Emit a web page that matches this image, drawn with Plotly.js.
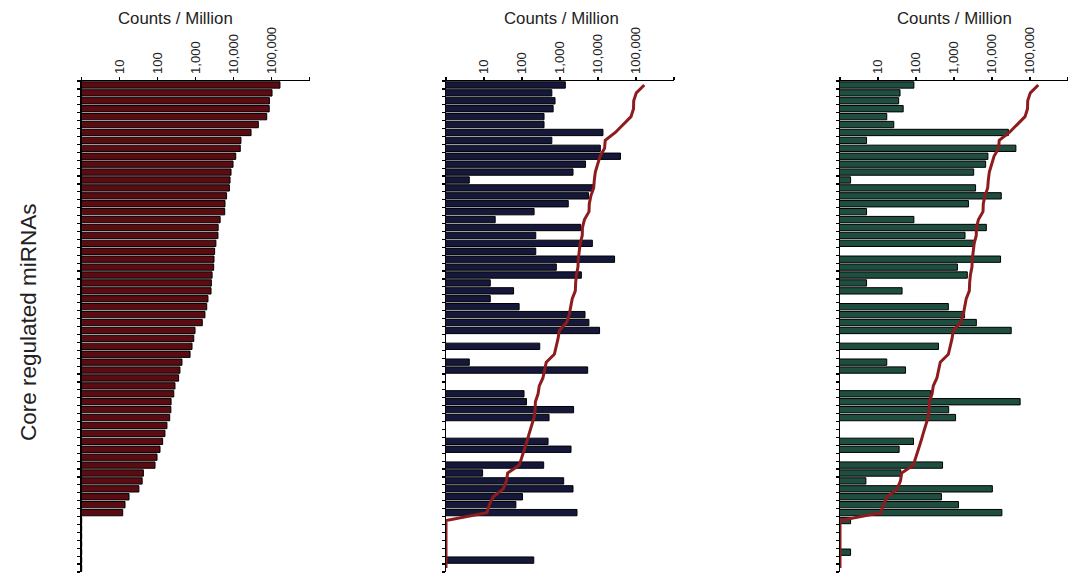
<!DOCTYPE html>
<html>
<head>
<meta charset="utf-8">
<script src="https://cdn.plot.ly/plotly-3.0.1.min.js"></script>
<style>
  html, body { margin: 0; padding: 0; background: #fff; }
  #chart { width: 1068px; height: 575px; }
</style>
</head>
<body>
<div id="chart"></div>
<script>
// Core regulated miRNAs, counts per million, one row per miRNA (62 rows).
const rowIds = Array.from({length: 62}, (_, i) => i + 1);

// Reference library: sorted abundance (also drawn as the red profile line in the other panels)
const coreCounts = [
  165000, 102000, 87000, 86000, 74000, 44500, 28600, 15500, 14900, 11300,
  9600, 8500, 8000, 7700, 6500, 5900, 5800, 4400, 3900, 3850,
  3400, 3150, 3030, 2970, 2700, 2580, 2530, 2100, 1950, 1750,
  1490, 960, 890, 800, 710, 435, 385, 355, 285, 265,
  225, 222, 207, 175, 155, 135, 115, 96, 85, 42,
  39, 32, 17.6, 13.8, 12, 1, 1, 1, 1, 1, 1, 1
];

// Second library
const libraryB = [
  1380, 610, 740, 660, 380, 380, 13500, 610, 11500, 39000,
  4700, 2200, 4.1, 7400, 5650, 1650, 208, 19.7, 3500, 230,
  7100, 230, 27300, 800, 3650, 14.6, 60, 14.6, 84, 4550,
  5760, 11000, 0, 293, 0, 4.1, 5350, 0, 0, 113,
  131, 2280, 515, 0, 0, 485, 1950, 0, 372, 9.2,
  1250, 2200, 103, 69, 2800, 0, 0, 0, 0, 0,
  204, 0
];

// Third library
const libraryC = [
  88, 38, 35, 46, 17, 26, 27000, 5, 42500, 7800,
  6800, 3300, 1.9, 3700, 17500, 2400, 5, 88, 7100, 1950,
  3330, 0, 16800, 1230, 2240, 5, 43, 0, 710, 1900,
  3870, 32000, 0, 390, 0, 17, 53, 0, 0, 245,
  55000, 725, 1100, 0, 0, 86, 36, 0, 500, 40,
  4.8, 10200, 467, 1310, 18200, 1.9, 0, 0, 0, 1.9,
  0, 0
];

const tickVals = [1, 10, 100, 1000, 10000, 100000, 1000000];
const tickText = ['', '10', '100', '1,000', '10,000', '100,000', ''];
const axisTitle = 'Counts / Million';
const sideTitle = 'Core regulated miRNAs';

const W = 1068;
const FONT = 'Liberation Sans, Arial, sans-serif';

function bars(values, fill, n) {
  return {
    type: 'bar', orientation: 'h',
    x: values, y: rowIds,
    xaxis: 'x' + (n === 1 ? '' : n), yaxis: 'y' + (n === 1 ? '' : n),
    width: 0.8,
    marker: { color: fill, line: { color: '#000', width: 1 } },
    hoverinfo: 'x'
  };
}
function profile(values, n) {
  return {
    type: 'scatter', mode: 'lines',
    x: values, y: rowIds,
    xaxis: 'x' + n, yaxis: 'y' + n,
    line: { color: '#8e1c1e', width: 3 },
    hoverinfo: 'skip'
  };
}

const data = [
  bars(coreCounts, '#5c0b12', 1),
  bars(libraryB, '#15183b', 2),
  profile(coreCounts, 2),
  bars(libraryC, '#1d4e40', 3),
  profile(coreCounts, 3)
];

function xAxis(d0, d1, yName) {
  return {
    type: 'log', range: [0, 6], domain: [d0 / W, d1 / W],
    side: 'top', anchor: yName,
    tickmode: 'array', tickvals: tickVals, ticktext: tickText,
    tickangle: -90, ticks: 'outside', ticklen: 3, tickwidth: 1.5, tickcolor: '#000',
    tickfont: { family: FONT, size: 13, color: '#222' },
    showline: true, linecolor: '#000', linewidth: 1.5,
    showgrid: false, zeroline: false, fixedrange: true
  };
}
const boundaryTicks = Array.from({length: 63}, (_, i) => i + 0.5);
function yAxis(xName) {
  return {
    range: [62.5, 0.5], anchor: xName,
    tickmode: 'array', tickvals: boundaryTicks, showticklabels: false,
    ticks: 'outside', ticklen: 3, tickwidth: 1.2, tickcolor: '#000',
    showline: true, linecolor: '#000', linewidth: 1.5,
    showgrid: false, zeroline: false, fixedrange: true
  };
}

function title(px, text) {
  return {
    text: text, xref: 'paper', yref: 'paper',
    x: px / W, y: (572 - 18) / 491, xanchor: 'center', yanchor: 'middle',
    showarrow: false, font: { family: FONT, size: 16.8, color: '#222' }
  };
}

const layout = {
  width: W, height: 575,
  margin: { l: 0, r: 0, t: 81, b: 3 },
  paper_bgcolor: '#fff', plot_bgcolor: 'rgba(0,0,0,0)',
  showlegend: false,
  bargap: 0.2,
  xaxis: xAxis(81.7, 309.7, 'y'),
  yaxis: yAxis('x'),
  xaxis2: xAxis(446, 674, 'y2'),
  yaxis2: yAxis('x2'),
  xaxis3: xAxis(840, 1068, 'y3'),
  yaxis3: yAxis('x3'),
  annotations: [
    title(176, axisTitle),
    title(561, axisTitle),
    title(954, axisTitle),
    {
      text: sideTitle, xref: 'paper', yref: 'paper',
      x: 28 / W, y: (572 - 322) / 491, xanchor: 'center', yanchor: 'middle',
      textangle: -90, showarrow: false,
      font: { family: FONT, size: 22.5, color: '#222' }
    }
  ]
};

Plotly.newPlot('chart', data, layout, { displayModeBar: false, staticPlot: true });
</script>
</body>
</html>
